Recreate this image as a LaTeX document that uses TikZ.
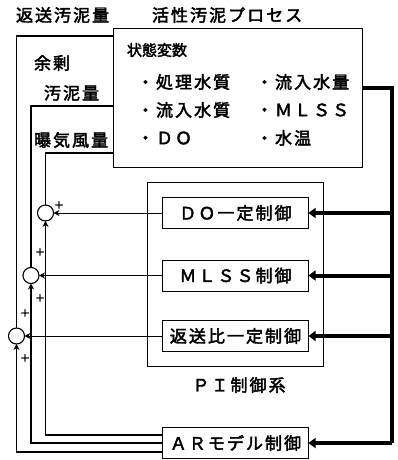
\documentclass[tikz,border=0pt]{standalone}
\usepackage{fontspec}
\setmainfont{Noto Sans CJK JP}
\newfontfamily\jpwide{Noto Sans CJK JP}[LetterSpace=12,FakeBold=2.5]
\newfontfamily\jpplain{Noto Sans CJK JP}[FakeBold=2.5]
\usetikzlibrary{arrows.meta}
\begin{document}
\begin{tikzpicture}[x=1pt,y=-1pt,
  every node/.style={inner sep=0pt, outer sep=0pt},
  lbl/.style={font=\jpwide\fontsize{17}{19}\selectfont, anchor=west},
  ttl/.style={font=\jpplain\fontsize{15}{17}\selectfont, anchor=west},
  ctrlbox/.style={draw, line width=0.9pt, minimum width=146pt, minimum height=31pt, font=\jpwide\fontsize{17}{19}\selectfont},
  sumnode/.style={circle, draw, line width=1.1pt, minimum size=16pt},
  plus/.style={font=\jpplain\fontsize{10}{10}\selectfont},
  fb/.style={line width=1.1pt},
  sig/.style={line width=0.8pt, -{Stealth[length=6pt,width=6pt]}},
  fbarrow/.style={line width=1.1pt, -{Stealth[length=6pt,width=6pt]}},
  bus/.style={line width=4pt},
  busarrow/.style={line width=4pt, -{Triangle[length=7pt,width=10pt]}}
]
\useasboundingbox (0,0) rectangle (397,460);

% process box
\node[draw, line width=0.9pt, minimum width=249pt, minimum height=139pt] (proc) at (237.5,97.5) {};
\node[lbl] (title1) at (16,15) {返送汚泥量};
\node[lbl] (title2) at (152,15) {活性汚泥プロセス};
\node[ttl] (sv) at (127,50) {状態変数};
\node[lbl] (v1) at (137,82) {・処理水質};
\node[lbl] (v2) at (256,82) {・流入水量};
\node[lbl] (v3) at (137,110) {・流入水質};
\node[lbl] (v4) at (256,110) {・ＭＬＳＳ};
\node[lbl] (v5) at (137,138) {・ＤＯ};
\node[lbl] (v6) at (256,138) {・水温};

% manipulated variable labels
\node[lbl] (m1) at (34,63) {余剰};
\node[lbl] (m2) at (44,93) {汚泥量};
\node[lbl] (m3) at (34,140) {曝気風量};

% PI box
\node[draw, line width=0.7pt, minimum width=176pt, minimum height=184pt] (pi) at (235,274) {};
\node[lbl, anchor=center] (pilabel) at (239,385) {ＰＩ制御系};

% controllers
\node[ctrlbox] (doc) at (235.5,213) {ＤＯ一定制御};
\node[ctrlbox] (mlc) at (235.5,275.5) {ＭＬＳＳ制御};
\node[ctrlbox] (rtc) at (235.5,336) {返送比一定制御};
\node[ctrlbox] (arc) at (235.5,443) {ＡＲモデル制御};

% summing junctions
\node[sumnode] (c1) at (45.5,213) {};
\node[sumnode] (c2) at (31,275.5) {};
\node[sumnode] (c3) at (16.5,336) {};

% plus signs
\node[plus] (p1) at (59,205) {＋};
\node[plus] (p2) at (40,252) {＋};
\node[plus] (p3) at (40,298) {＋};
\node[plus] (p4) at (25,313) {＋};
\node[plus] (p5) at (25,358) {＋};

% coordinates on process box
\coordinate (pout) at (362,87.5);
\coordinate (busbot) at (391.5,443);
\coordinate (in1) at (113,153);
\coordinate (in2) at (113,106);
\coordinate (in3) at (113,36);

% thick bus
\draw[bus] (pout) -| (busbot);
\draw[busarrow] (busbot) -- (arc.east);
\draw[busarrow] (doc.east -| busbot) -- (doc.east);
\draw[busarrow] (mlc.east -| busbot) -- (mlc.east);
\draw[busarrow] (rtc.east -| busbot) -- (rtc.east);

% PI signals
\draw[sig] (doc.west) -- (c1.east);
\draw[sig] (mlc.west) -- (c2.east);
\draw[sig] (rtc.west) -- (c3.east);

% feedback from AR model
\draw[fbarrow] ([yshift=8pt]arc.west) -| (c1.south);
\draw[fbarrow] (arc.west) -| (c2.south);
\draw[fbarrow] ([yshift=-9pt]arc.west) -| (c3.south);

% outputs to process
\draw[fb] (c1.north) |- (in1);
\draw[fb] (c2.north) |- (in2);
\draw[fb] (c3.north) |- (in3);
\end{tikzpicture}
\end{document}
